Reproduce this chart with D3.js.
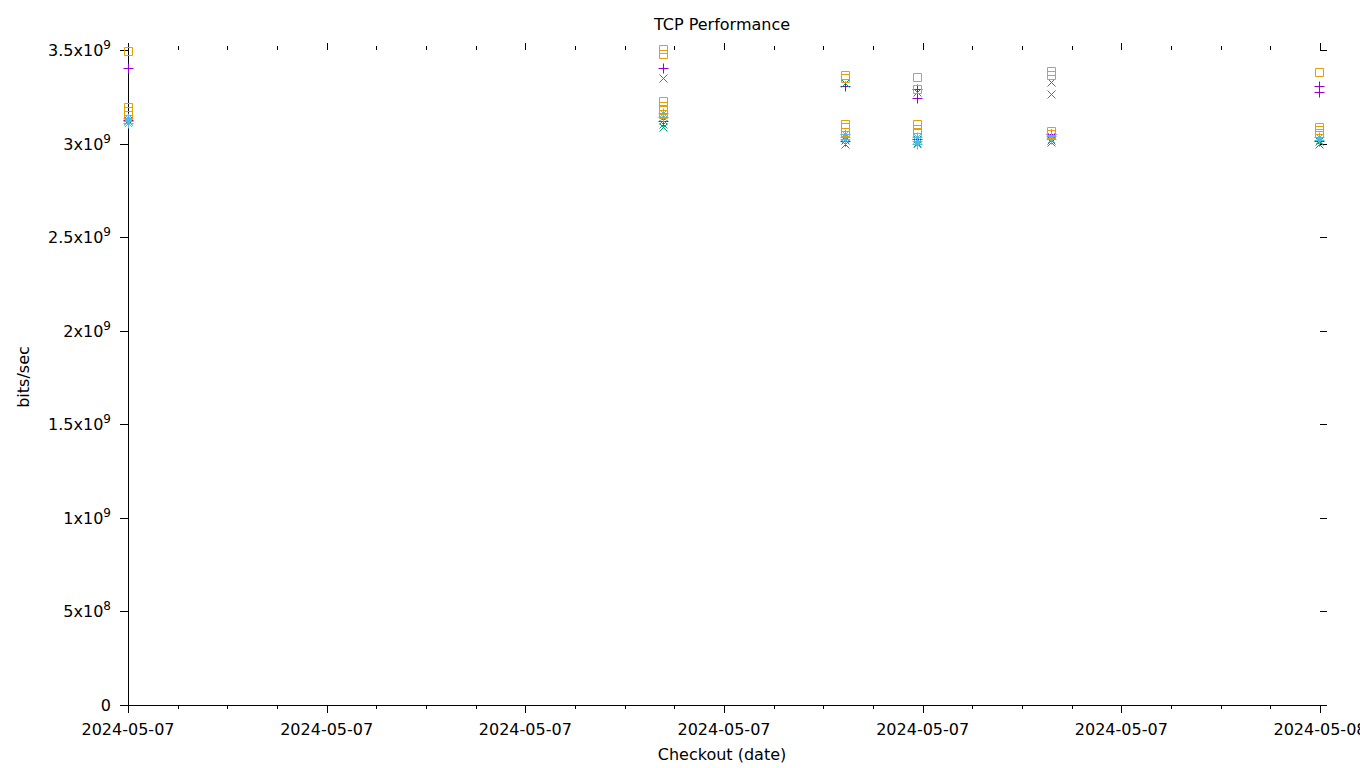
<!DOCTYPE html>
<html>
<head>
<meta charset="utf-8">
<script src="https://cdn.jsdelivr.net/npm/d3@7"></script>
<style>
  body { margin: 0; background: #fff; }
  text { font-family: "DejaVu Sans", sans-serif; }
</style>
</head>
<body>
<div id="container"></div>
<script>
// window size
let cwW = 1360;
let cwH = 768;

// plot area
const pLeft = 128, pRight = 1320, pTop = 50, pBottom = 705;

// run times (checkout date)
const runTimes = ["2024-05-07T00:00", "2024-05-07T10:46", "2024-05-07T14:26",
                  "2024-05-07T15:53", "2024-05-07T18:35", "2024-05-07T23:59"];

// bits/sec values, one list per run time
const purplePlus = [
  [3.406e9, 3.128e9],
  [3.406e9, 3.118e9],
  [3.310e9, 3.016e9],
  [3.294e9, 3.246e9, 3.027e9],
  [3.050e9],
  [3.310e9, 3.278e9, 3.016e9]
];
const greenCross = [
  [3.118e9, 3.128e9],
  [3.348e9, 3.128e9, 3.107e9, 3.091e9],
  [3.326e9, 3.021e9, 2.998e9],
  [3.278e9, 3.027e9, 3.005e9],
  [3.331e9, 3.267e9, 3.021e9, 3.010e9],
  [3.016e9, 3.000e9]
];
const blueStar = [
  [3.139e9, 3.123e9, 3.112e9],
  [3.166e9, 3.144e9],
  [3.053e9, 3.037e9, 3.027e9],
  [3.037e9, 3.016e9, 2.998e9],
  [3.043e9, 3.027e9],
  [3.037e9, 3.021e9]
];
const orangeSquare = [
  [3.492e9, 3.198e9, 3.176e9, 3.155e9],
  [3.503e9, 3.481e9, 3.225e9, 3.203e9, 3.182e9, 3.160e9],
  [3.364e9, 3.348e9, 3.107e9, 3.086e9, 3.064e9],
  [3.358e9, 3.294e9, 3.102e9, 3.080e9, 3.059e9],
  [3.390e9, 3.369e9, 3.069e9, 3.053e9],
  [3.380e9, 3.091e9, 3.075e9, 3.059e9]
];

const yTicks = [0, 5e8, 1e9, 1.5e9, 2e9, 2.5e9, 3e9, 3.5e9];

const parseTime = d3.timeParse("%Y-%m-%dT%H:%M");
const fmtDate = d3.timeFormat("%Y-%m-%d");

let svgArea = d3.select("#container").append("svg")
  .attr("width", cwW).attr("height", cwH);

let x = d3.scaleTime()
  .domain([parseTime("2024-05-07T00:00"), parseTime("2024-05-08T00:00")])
  .range([pLeft, pRight]);
let y = d3.scaleLinear().domain([0, 3.5e9]).range([pBottom, pTop]);

/**************************
* Axes
**************************/
const majorX = x.ticks(d3.timeHour.every(4));
const minorX = x.ticks(d3.timeHour.every(1)).filter(t => t.getHours() % 4 != 0);

let axes = svgArea.append("g").attr("stroke", "#000").attr("stroke-width", 1)
  .attr("shape-rendering", "crispEdges");

axes.append("line").attr("x1", pLeft).attr("x2", pLeft).attr("y1", pTop).attr("y2", pBottom);
axes.append("line").attr("x1", pLeft).attr("x2", pRight).attr("y1", pBottom).attr("y2", pBottom);

majorX.forEach(function(t){
  let px = Math.round(x(t));
  axes.append("line").attr("x1", px).attr("x2", px).attr("y1", pBottom).attr("y2", pBottom + 8);
  axes.append("line").attr("x1", px).attr("x2", px).attr("y1", pTop).attr("y2", pTop - 7);
});
minorX.forEach(function(t){
  let px = Math.round(x(t));
  axes.append("line").attr("x1", px).attr("x2", px).attr("y1", pBottom).attr("y2", pBottom + 4);
  axes.append("line").attr("x1", px).attr("x2", px).attr("y1", pTop).attr("y2", pTop - 4);
});
yTicks.forEach(function(v){
  let py = Math.round(y(v));
  axes.append("line").attr("x1", pLeft).attr("x2", pLeft - 8).attr("y1", py).attr("y2", py);
  axes.append("line").attr("x1", pRight).attr("x2", pRight + 7).attr("y1", py).attr("y2", py);
});

// x tick labels
svgArea.append("g").selectAll("text")
  .data(majorX).enter().append("text")
  .attr("x", d => x(d)).attr("y", pBottom + 30)
  .attr("text-anchor", "middle").attr("font-size", 16)
  .text(d => fmtDate(d));

// y tick labels
let yl = svgArea.append("g").selectAll("text")
  .data(yTicks).enter().append("text")
  .attr("x", pLeft - 17).attr("y", d => y(d) + 6)
  .attr("text-anchor", "end").attr("font-size", 16);
yl.each(function(v){
  let t = d3.select(this);
  if (v == 0) { t.text("0"); return; }
  let e = Math.floor(Math.log10(v));
  let m = v / Math.pow(10, e);
  t.append("tspan").text(d3.format("~g")(m) + "x10");
  t.append("tspan").attr("dy", -7).attr("font-size", 12).text(e);
});

// titles
svgArea.append("text").attr("x", 722).attr("y", 30).attr("text-anchor", "middle")
  .attr("font-size", 16).text("TCP Performance");
svgArea.append("text").attr("x", 722).attr("y", 760).attr("text-anchor", "middle")
  .attr("font-size", 16).text("Checkout (date)");
svgArea.append("text").attr("transform", "translate(29,377) rotate(-90)")
  .attr("text-anchor", "middle").attr("font-size", 16).text("bits/sec");

/**************************
* Points
**************************/
const shapes = {
  plus: "M-4.5,0.5H5.5M0.5,-4.5V5.5",
  cross: "M-3.5,-3.5L4.5,4.5M-3.5,4.5L4.5,-3.5",
  star: "M-4.5,0.5H5.5M0.5,-4.5V5.5M-3,-3L4,4M-3,4L4,-3",
  square: "M-3.5,-3.5H4.5V4.5H-3.5Z"
};
const seriesList = [
  {vals: purplePlus, color: "#9400d3", shape: "plus"},
  {vals: greenCross, color: "#009e73", shape: "cross"},
  {vals: blueStar, color: "#56b4e9", shape: "star"},
  {vals: orangeSquare, color: "#e69f00", shape: "square"}
];

seriesList.forEach(function(s){
  let pts = [];
  s.vals.forEach(function(list, i){
    list.forEach(v => pts.push({t: parseTime(runTimes[i]), v: v}));
  });
  svgArea.append("g").selectAll("path")
    .data(pts).enter().append("path")
    .attr("transform", d => "translate(" + Math.round(x(d.t)) + "," + Math.round(y(d.v)) + ")")
    .attr("d", shapes[s.shape])
    .attr("fill", "none")
    .attr("stroke", s.color)
    .attr("stroke-width", 1);
});
</script>
</body>
</html>
